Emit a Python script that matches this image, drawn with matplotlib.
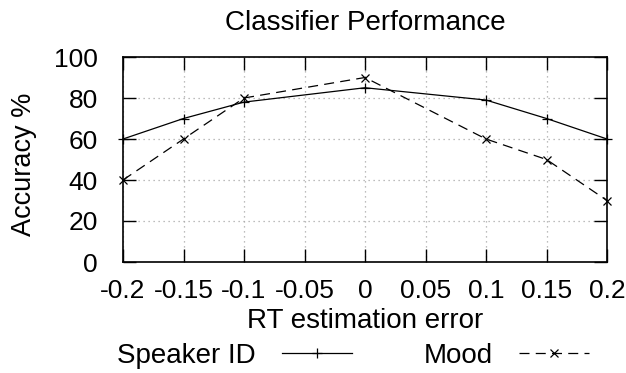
import matplotlib
matplotlib.use("Agg")
import matplotlib.pyplot as plt

plt.rcParams["font.family"] = ["Liberation Sans", "DejaVu Sans"]

rt_error = [-0.2, -0.15, -0.1, 0, 0.1, 0.15, 0.2]
speaker_id = [60, 70, 78, 85, 79, 70, 60]
mood = [40, 60, 80, 90, 60, 50, 30]
x_ticks = [-0.2, -0.15, -0.1, -0.05, 0, 0.05, 0.1, 0.15, 0.2]
x_labels = ["-0.2", "-0.15", "-0.1", "-0.05", "0", "0.05", "0.1", "0.15", "0.2"]
y_ticks = [0, 20, 40, 60, 80, 100]

W, H = 626, 373
fig = plt.figure(figsize=(W / 100, H / 100), dpi=100)
ax = fig.add_axes([123 / W, 1 - 262 / H, (607 - 123) / W, (262 - 57) / H])

ax.plot(rt_error, speaker_id, color="black", lw=0.9, marker="+", ms=7, mew=0.9,
        label="Speaker ID", clip_on=False, zorder=3)
ax.plot(rt_error, mood, color="black", lw=0.9, ls=(0, (8, 5)), marker="x", ms=5.5, mew=0.9,
        label="Mood", clip_on=False, zorder=3)

ax.set_xlim(-0.2, 0.2)
ax.set_ylim(0, 100)
ax.set_xticks(x_ticks)
ax.set_xticklabels(x_labels)
ax.set_yticks(y_ticks)
ax.grid(True, color="#a8a8a8", ls=(0, (1, 3)), lw=0.9)
ax.tick_params(direction="in", length=9.5, width=1.0, top=True, right=True,
               labelsize=19)
ax.tick_params(axis="y", pad=18)
ax.tick_params(axis="x", pad=12)
for s in ax.spines.values():
    s.set_linewidth(1.2)

fig.text(365 / W, 1 - 30 / H, "Classifier Performance", fontsize=20,
         ha="center", va="baseline")
fig.text(365 / W, 1 - 328 / H, "RT estimation error", fontsize=20,
         ha="center", va="baseline")
fig.text(24 / W, 1 - 164 / H, "Accuracy %", fontsize=19.5, rotation=90,
         ha="center", va="center")

fig.legend(loc="center", bbox_to_anchor=(353 / W, 1 - 356 / H), ncol=2, frameon=False,
           markerfirst=False, fontsize=20, handlelength=2.5, columnspacing=2.6,
           handletextpad=0.95, borderpad=0, borderaxespad=0)

fig.savefig("out.png", dpi=100)
